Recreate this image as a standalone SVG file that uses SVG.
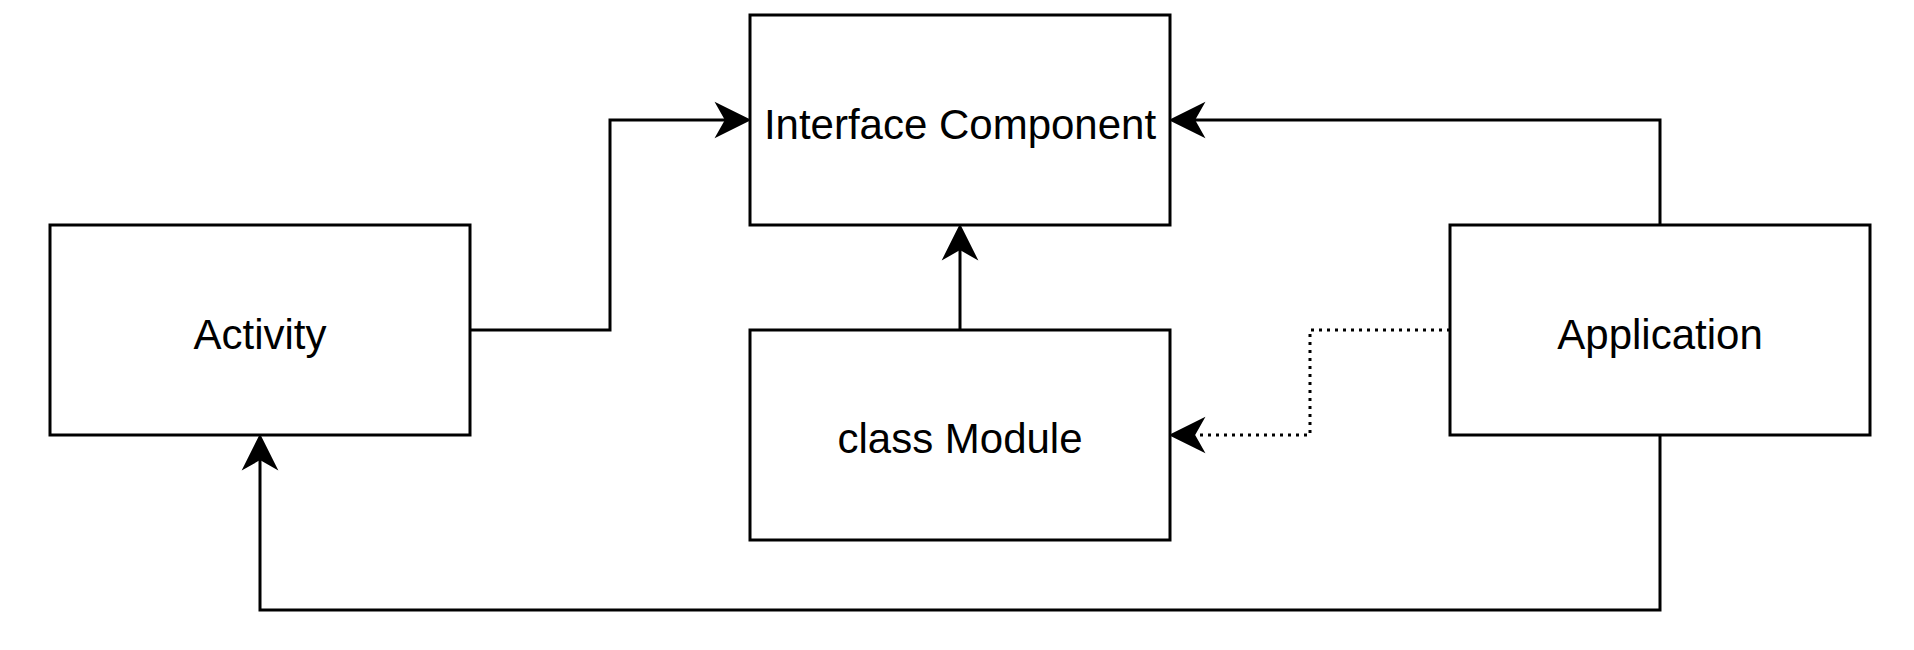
<svg xmlns="http://www.w3.org/2000/svg" width="1914" height="650" viewBox="0 0 1914 650">
  <style>
    .box { fill: #ffffff; stroke: #000000; stroke-width: 3; }
    .label { font-family: "Liberation Sans", Arial, Helvetica, sans-serif; font-size: 42px; fill: #000000; text-anchor: middle; }
    .edge { fill: none; stroke: #000000; stroke-width: 3; stroke-linejoin: miter; }
    .dotted { stroke-dasharray: 3 5; }
  </style>
  <defs>
    <marker id="arrow" markerUnits="userSpaceOnUse" viewBox="-38 -22 44 44" markerWidth="44" markerHeight="44" refX="-22" refY="0" orient="auto">
      <path d="M0,0 L-32,-16 L-23,0 L-32,16 Z" fill="#000000" stroke="#000000" stroke-width="2" stroke-linejoin="miter"/>
    </marker>
  </defs>
  <rect width="1914" height="650" fill="#ffffff"/>
  <g id="connectors">
    <path class="edge" d="M470,330 H610 V120 H727" marker-end="url(#arrow)"/>
    <path class="edge" d="M1660,225 V120 H1193" marker-end="url(#arrow)"/>
    <path class="edge" d="M960,330 V248" marker-end="url(#arrow)"/>
    <path class="edge dotted" d="M1450,330 H1310 V435 H1193" marker-end="url(#arrow)"/>
    <path class="edge" d="M1660,435 V610 H260 V458" marker-end="url(#arrow)"/>
  </g>
  <g id="interface-component">
    <rect class="box" x="750" y="15" width="420" height="210"/>
    <text class="label" x="960" y="139">Interface Component</text>
  </g>
  <g id="activity">
    <rect class="box" x="50" y="225" width="420" height="210"/>
    <text class="label" x="260" y="349">Activity</text>
  </g>
  <g id="class-module">
    <rect class="box" x="750" y="330" width="420" height="210"/>
    <text class="label" x="960" y="453">class Module</text>
  </g>
  <g id="application">
    <rect class="box" x="1450" y="225" width="420" height="210"/>
    <text class="label" x="1660" y="349">Application</text>
  </g>
</svg>
